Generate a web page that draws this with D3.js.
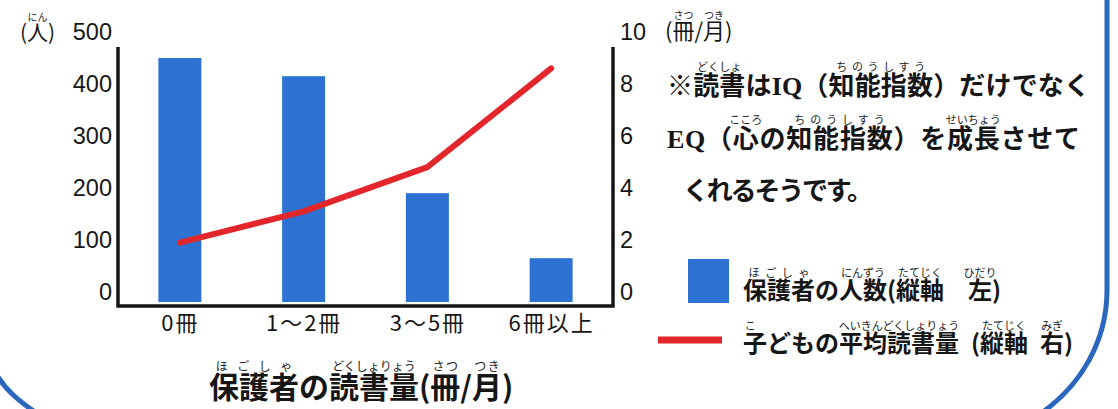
<!DOCTYPE html>
<html>
<head>
<meta charset="utf-8">
<script src="https://cdn.jsdelivr.net/npm/d3@7"></script>
<style>
  body { margin: 0; background: #fff; }
  svg { display: block; }
</style>
</head>
<body>
<svg id="chart" width="1118" height="409"></svg>
<script>
var categories = ["0冊", "1～2冊", "3～5冊", "6冊以上"];
var parents = [450, 415, 190, 65];      // 保護者の人数 (left axis)
var children = [1.9, 3.1, 4.8, 8.6];    // 子どもの平均読書量 (right axis)
var leftTicks = [0, 100, 200, 300, 400, 500];
var rightTicks = [0, 2, 4, 6, 8, 10];

var jp = "'Noto Sans CJK JP', sans-serif";
var num = "'Liberation Sans', Arial, sans-serif";
var blue = "#2d72d2", red = "#e2262b", ink = "#161616";

var svg = d3.select("#chart");
var plot = {left: 118, right: 613, top: 47, bottom: 306};

var x = d3.scalePoint().domain(categories).range([plot.left, plot.right]).padding(0.5);
var y = d3.scaleLinear().domain([0, 500]).range([292, 32]);
var y2 = d3.scaleLinear().domain([0, 10]).range([292, 32]);

// text with furigana above chosen segments
function rubyText(parent, px, py, segs, size, opt) {
  opt = opt || {};
  var t = parent.append("text")
    .attr("x", px).attr("y", py)
    .attr("font-family", jp)
    .attr("font-size", size)
    .attr("font-weight", opt.weight || 700)
    .attr("fill", ink);
  if (opt.len) t.attr("textLength", opt.len).attr("lengthAdjust", "spacing");
  segs.forEach(function(s) {
    var sp = t.append("tspan").text(s[0]);
    if (s[2]) sp.attr("font-family", s[2]);
  });
  var node = t.node(), idx = 0;
  segs.forEach(function(s) {
    var n = s[0].length;
    if (s[1]) {
      var x0 = node.getStartPositionOfChar(idx).x;
      var x1 = node.getEndPositionOfChar(idx + n - 1).x;
      var cx = (x0 + x1) / 2;
      var r = parent.append("text")
        .attr("y", py - size * 0.88 - 1)
        .attr("font-family", jp)
        .attr("font-size", opt.rsize || 11)
        .attr("fill", "#222")
        .text(s[1]);
      var w = r.node().getComputedTextLength();
      var bw = (x1 - x0) * 0.85;
      if (w < bw) {
        r.attr("x", cx - bw / 2).attr("textLength", bw).attr("lengthAdjust", "spacing");
      } else {
        r.attr("x", cx - w / 2);
      }
    }
    idx += n;
  });
  return t;
}

// decorative rounded frame
svg.append("path")
  .attr("d", "M1107,-5 L1107,290 C1107,340 1082,385 1040,414")
  .attr("fill", "none").attr("stroke", "#2b67bd").attr("stroke-width", 5);
svg.append("path")
  .attr("d", "M-5,372 C5,390 20,402 38,414")
  .attr("fill", "none").attr("stroke", "#2b67bd").attr("stroke-width", 5);

// bars
svg.selectAll(".bar")
  .data(parents)
  .enter().append("rect")
  .attr("class", "bar")
  .attr("x", function(d, i) { return x(categories[i]) - 21.5; })
  .attr("y", function(d) { return y(d); })
  .attr("width", 43)
  .attr("height", function(d) { return plot.bottom - 4 - y(d); })
  .attr("fill", blue);

// line
var line = d3.line()
  .x(function(d, i) { return x(categories[i]); })
  .y(function(d) { return y2(d); });

svg.append("path")
  .datum(children)
  .attr("d", line)
  .attr("fill", "none")
  .attr("stroke", red)
  .attr("stroke-width", 6)
  .attr("stroke-linejoin", "round")
  .attr("stroke-linecap", "round");

// open frame
svg.append("path")
  .attr("d", "M" + plot.left + "," + plot.top + "V" + plot.bottom + "H" + plot.right + "V" + plot.top)
  .attr("fill", "none").attr("stroke", ink).attr("stroke-width", 3.5);

// axes
var gl = svg.append("g")
  .attr("transform", "translate(" + plot.left + ",0)")
  .call(d3.axisLeft(y).tickValues(leftTicks).tickSize(0).tickPadding(6));
var gr = svg.append("g")
  .attr("transform", "translate(" + plot.right + ",0)")
  .call(d3.axisRight(y2).tickValues(rightTicks).tickSize(0).tickPadding(7));
[gl, gr].forEach(function(g) {
  g.select(".domain").remove();
  g.selectAll("text").attr("font-family", num).attr("font-size", 23.5).attr("fill", ink);
});

var gx = svg.append("g")
  .attr("transform", "translate(0," + plot.bottom + ")")
  .call(d3.axisBottom(x).tickSize(0).tickPadding(9));
gx.select(".domain").remove();
gx.selectAll("text")
  .attr("font-family", jp).attr("font-size", 22)
  .attr("letter-spacing", 2).attr("fill", ink);

// units
rubyText(svg, 20, 40, [["(", ""], ["人", "にん"], [")", ""]], 21, {weight: 400, rsize: 10});
rubyText(svg, 665, 39, [["(", ""], ["冊", "さつ"], ["/", ""], ["月", "つき"], [")", ""]], 22, {weight: 400, rsize: 10});

// note
var serif = "'Liberation Serif', 'Times New Roman', serif";
rubyText(svg, 667, 95, [["※", ""], ["読書", "どくしょ"], ["は", ""], ["IQ", "", serif], ["（", ""],
  ["知能指数", "ちのうしすう"], ["）だけでなく", ""]], 26, {len: 423});
rubyText(svg, 667, 148, [["EQ", "", serif], ["（", ""], ["心", "こころ"], ["の", ""],
  ["知能指数", "ちのうしすう"], ["）を", ""], ["成長", "せいちょう"], ["させて", ""]], 26, {len: 413});
rubyText(svg, 683, 200, [["くれるそうです。", ""]], 26, {len: 190});

// legend
svg.append("rect")
  .attr("x", 688).attr("y", 259).attr("width", 41).attr("height", 44)
  .attr("fill", blue);
rubyText(svg, 743, 299, [["保護者", "ほごしゃ"], ["の", ""], ["人数", "にんずう"], ["(", ""],
  ["縦軸", "たてじく"], ["\u3000", ""], ["左", "ひだり"], [")", ""]], 24);
svg.append("line")
  .attr("x1", 658).attr("x2", 722).attr("y1", 340).attr("y2", 340)
  .attr("stroke", red).attr("stroke-width", 7);
rubyText(svg, 743, 352, [["子", "こ"], ["どもの", ""], ["平均読書量", "へいきんどくしょりょう"], ["\u2002(", ""],
  ["縦軸", "たてじく"], ["\u2002", ""], ["右", "みぎ"], [")", ""]], 24);

// x title
rubyText(svg, 209, 398, [["保護者", "ほごしゃ"], ["の", ""], ["読書量", "どくしょりょう"], ["(", ""],
  ["冊", "さつ"], ["/", ""], ["月", "つき"], [")", ""]], 30, {rsize: 12});
</script>
</body>
</html>
